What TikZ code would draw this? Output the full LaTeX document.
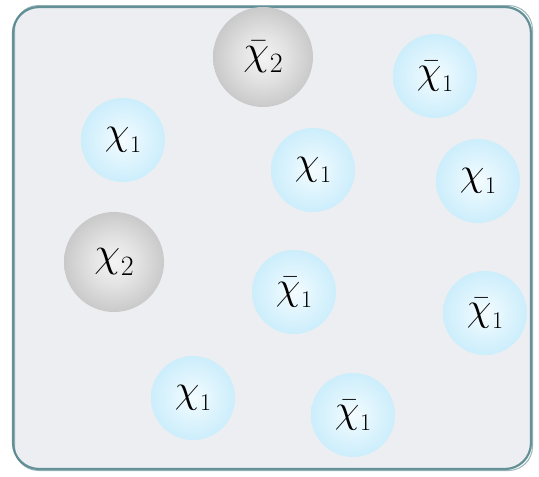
\RequirePackage{fix-cm}
\documentclass[tikz,border=0pt]{standalone}
\newcommand\lsub[2]{\kern0.02em\raisebox{-0.2em}{\fontsize{#2}{#2}\selectfont #1}}
\newcommand\ch[1]{$\chi$\lsub{#1}{24}}
\newcommand\chb[1]{$\bar{\chi}$\lsub{#1}{24}}
\newcommand\chg[1]{$\chi$\lsub{#1}{28}}
\newcommand\chgb[1]{$\bar{\chi}$\lsub{#1}{28}}
\definecolor{bordc}{HTML}{55868C}
\definecolor{bgc}{HTML}{ECEEF2}
\definecolor{blueout}{HTML}{A6E0F8}
\definecolor{bluein}{HTML}{F4FCFF}
\definecolor{grayout}{HTML}{9A9A9A}
\definecolor{grayin}{HTML}{F4F4F4}
\pgfdeclareradialshading{ballb}{\pgfpoint{0bp}{0bp}}{color(0bp)=(bluein); color(14bp)=(bluein!70!blueout); color(50bp)=(blueout)}
\pgfdeclareradialshading{ballg}{\pgfpoint{0bp}{0bp}}{color(0bp)=(grayin); color(12bp)=(grayin!80!grayout); color(50bp)=(grayout)}
\tikzset{
  x=1pt,y=-1pt,
  bpart/.style={circle,minimum size=84pt,inner sep=0pt,shading=ballb,font=\fontsize{40}{40}\selectfont},
  gpart/.style={circle,minimum size=100pt,inner sep=0pt,shading=ballg,font=\fontsize{42}{42}\selectfont},
}
\begin{document}
\begin{tikzpicture}
\useasboundingbox (0,0) rectangle (539,477);
\fill[white!96!blue!2] (0,0) rectangle (539,477);
\node[draw=none,fill=bgc,rounded corners=26pt,minimum width=518pt,minimum height=462pt,inner sep=0pt] (box) at (272,238) {};
\draw[bordc,line width=2.2pt,rounded corners=26pt,opacity=0.9] (13,7) rectangle (531,469);
\draw[bordc,line width=1pt,rounded corners=24pt,opacity=0.6] (14.5,5.5) rectangle (532.5,470.5);
\node[gpart] (g1) at (263,57) {\chgb{2}};
\node[bpart] (b1) at (435,76) {\chb{1}};
\node[bpart] (b2) at (123,140) {\ch{1}};
\node[bpart] (b3) at (313,170) {\ch{1}};
\node[bpart] (b4) at (478,181) {\ch{1}};
\node[gpart] (g2) at (114,262) {\chg{2}};
\node[bpart] (b5) at (294,292) {\chb{1}};
\node[bpart] (b6) at (485,313) {\chb{1}};
\node[bpart] (b7) at (193,398) {\ch{1}};
\node[bpart] (b8) at (353,415) {\chb{1}};
\end{tikzpicture}
\end{document}
